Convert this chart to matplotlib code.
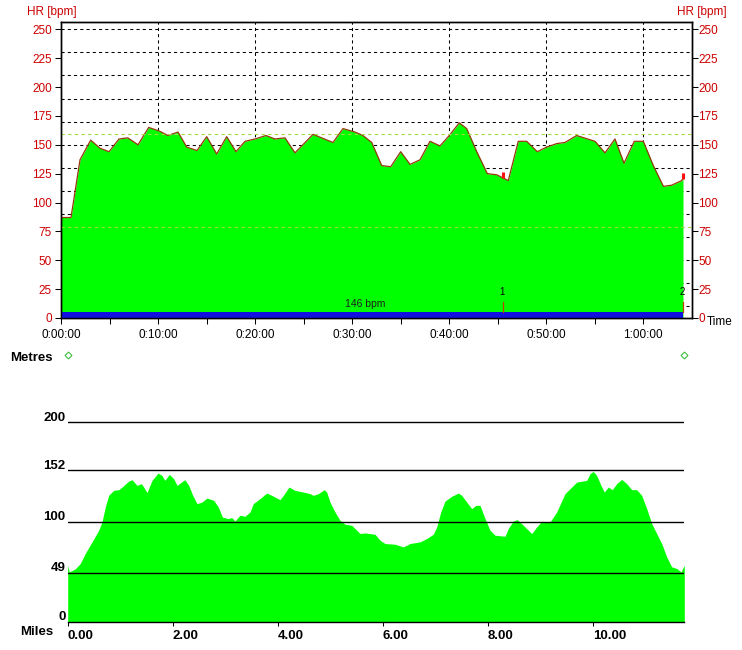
import numpy as np
import matplotlib
matplotlib.use("Agg")
import matplotlib.pyplot as plt

plt.rcParams['font.family'] = ['Liberation Sans', 'DejaVu Sans']

# heart rate, minutes vs bpm
hr_time = [0.0, 1.03, 1.96, 3.06, 4.02, 4.95, 5.98, 6.88, 7.94, 9.04, 10.1, 11.03,
           12.06, 12.96, 14.02, 15.02, 16.05, 17.08, 18.04, 18.97, 20.0, 21.13,
           22.06, 23.09, 24.12, 25.98, 28.04, 29.07, 30.31, 31.13, 32.03, 33.06,
           33.99, 35.02, 35.98, 37.01, 38.04, 39.07, 40.03, 41.06, 41.82, 42.86,
           43.95, 44.92, 46.11, 47.14, 48.01, 49.1, 50.07, 51.1, 51.96, 53.16,
           55.05, 56.08, 57.11, 58.04, 59.1, 60.03, 61.06, 62.1, 62.96, 63.99, 64.12]
hr_bpm = [87, 87, 137, 154, 147, 144, 155, 156, 150, 165, 162, 158,
          161, 148, 145, 157, 142, 157, 144, 153, 155, 158,
          155, 156, 143, 159, 152, 164, 161, 158, 152, 132,
          131, 144, 133, 137, 153, 149, 158, 169, 164, 144,
          125, 124, 119, 153, 153, 144, 148, 151, 152, 158,
          153, 143, 155, 134, 153, 153, 132, 114, 115, 119, 121]
avg_label = "146 bpm"
lap_times = [45.6, 64.1]
lap_names = ["1", "2"]
zone_limits = [159, 79]

# elevation, miles vs metres
dist = [0.0, 0.03, 0.145, 0.24, 0.335, 0.463, 0.59, 0.653, 0.716, 0.78, 0.876, 0.971,
        1.034, 1.162, 1.225, 1.32, 1.402, 1.448, 1.51, 1.606, 1.72, 1.796, 1.848,
        1.935, 2.019, 2.082, 2.229, 2.305, 2.381, 2.463, 2.558, 2.653, 2.781, 2.869,
        2.945, 3.059, 3.124, 3.187, 3.282, 3.377, 3.472, 3.535, 3.663, 3.79, 3.886,
        4.044, 4.107, 4.215, 4.33, 4.488, 4.615, 4.678, 4.773, 4.888, 4.933, 4.996,
        5.091, 5.187, 5.282, 5.41, 5.505, 5.568, 5.663, 5.853, 5.949, 6.044, 6.234,
        6.392, 6.52, 6.71, 6.838, 6.964, 7.029, 7.105, 7.187, 7.314, 7.44, 7.505,
        7.6, 7.695, 7.777, 7.853, 7.949, 8.044, 8.139, 8.33, 8.392, 8.488, 8.564,
        8.678, 8.838, 8.933, 9.029, 9.187, 9.314, 9.472, 9.6, 9.695, 9.886, 9.949,
        10.011, 10.076, 10.158, 10.221, 10.297, 10.373, 10.457, 10.552, 10.648,
        10.743, 10.838, 10.933, 11.029, 11.124, 11.219, 11.314, 11.41, 11.505,
        11.6, 11.682, 11.745]
elev = [56.7, 50, 53, 58.4, 68.5, 80, 91.7, 100, 115, 126.7, 131.7, 132.4,
        135, 141, 142.4, 136.7, 138.4, 135, 129.4, 141.7, 149, 146.7, 141.7,
        147.7, 143.4, 136.7, 142.4, 136.7, 126.7, 118.4, 120, 124, 121.7, 115,
        105, 103.4, 104.4, 101, 106.7, 105.7, 110, 118.4, 123.4, 129, 126.7,
        122.4, 126.7, 135, 131.7, 130, 128.4, 126.7, 128.4, 132.4, 130, 120,
        110, 101.7, 97.7, 96.7, 91.7, 88.4, 89, 87.7, 81.7, 78.4, 77.7,
        75, 78.4, 80, 83.4, 87.7, 95, 110, 121, 125.7, 129, 126.7,
        120, 113.4, 116.7, 116.7, 103.4, 91.7, 86.7, 85.7, 93.4, 101, 102.4,
        96.7, 88.4, 95, 100.7, 100, 110, 128.4, 135, 140, 141.7, 148.4,
        150.7, 146.7, 136.7, 130, 135, 132.4, 138.4, 142.7, 138.4,
        132.4, 132.4, 126.7, 113.4, 98.4, 88.4, 78.4, 65, 55,
        53.4, 50, 56.7]
elev_lines = [0, 49, 100, 152, 200]

W, H = 742, 650
fig = plt.figure(figsize=(W / 100, H / 100), dpi=100)
red = '#cc0000'
dash = (0, (3, 3))

# ---- heart rate chart
ax1 = fig.add_axes([61 / W, 1 - 318 / H, 631 / W, 296 / H])
ax1.set_xlim(0, 65.05)
ax1.set_ylim(0, 256.3)
for v in range(10, 251, 20):
    ax1.axhline(v, color='k', ls=dash, lw=0.75, zorder=1)
for t in range(10, 61, 10):
    ax1.axvline(t, color='k', ls=dash, lw=0.75, zorder=1)
ax1.fill_between(hr_time, hr_bpm, color='#00ff00', lw=0, zorder=2)
ax1.plot(hr_time, hr_bpm, color='#94380c', lw=0.9, zorder=3)
for z in zone_limits:
    ax1.axhline(z, color='#9cdc3c', ls=dash, lw=0.8, zorder=4)
ax1.fill_between([0, hr_time[-1]], 0, 5, color='#1010e0', lw=0, zorder=4)
ax1.text(31.4, 12, avg_label, ha='center', va='center', fontsize=7.5,
         color='#202020', zorder=5)
for lt, name in zip(lap_times, lap_names):
    y = np.interp(lt, hr_time, hr_bpm)
    ax1.plot([lt, lt], [y, y + 5], color='#ff1010', lw=2.2,
             solid_capstyle='butt', zorder=5)
    ax1.plot([lt, lt], [5, 14], color='#c04000', lw=0.9, zorder=5)
    ax1.text(lt - 0.1, 22.5, name, ha='center', va='center', fontsize=7, zorder=5)

ax1.set_xticks(range(0, 61, 10))
ax1.set_xticks(range(0, 65, 5), minor=True)
ax1.set_xticklabels(['%d:%02d:00' % (t // 60, t % 60) for t in range(0, 61, 10)])
ax1.tick_params(axis='x', which='both', direction='out', length=4, width=0.75,
                labelsize=8.5, pad=4)
yt = list(range(0, 251, 25))
ax1.set_yticks(yt)
ax1.tick_params(axis='y', direction='out', length=4, width=0.75, labelsize=8.5,
                labelcolor=red, pad=2.5)
ax1r = ax1.twinx()
ax1r.set_ylim(ax1.get_ylim())
ax1r.set_yticks(yt)
ax1r.tick_params(axis='y', direction='out', length=4, width=0.75, labelsize=8.5,
                 labelcolor=red, pad=0.5)
for a in (ax1, ax1r):
    for s in a.spines.values():
        s.set_linewidth(1)

fig.text(27 / W, 1 - 12.5 / H, 'HR [bpm]', color=red, fontsize=8.5,
         ha='left', va='center')
fig.text(727 / W, 1 - 12.5 / H, 'HR [bpm]', color=red, fontsize=8.5,
         ha='right', va='center')
fig.text(707 / W, 1 - 322 / H, 'Time', fontsize=8.5, ha='left', va='center')

# ---- elevation chart
ax2 = fig.add_axes([67.7 / W, 1 - 621.7 / H, 616.6 / W, 281.7 / H])
ax2.set_xlim(0, dist[-1])
ax2.set_ylim(0, 282.5)
ax2.fill_between(dist, elev, color='#00ff00', lw=0, zorder=2)
for v in elev_lines[1:]:
    ax2.axhline(v, color='k', lw=1, zorder=3)
for s in ('left', 'right', 'top'):
    ax2.spines[s].set_visible(False)
ax2.spines['bottom'].set_linewidth(1)
ax2.set_yticks([])
for v in elev_lines:
    ax2.text(-0.04, v + 1.5, str(v), ha='right', va='baseline', fontsize=9.5,
             fontweight='bold', transform=ax2.transData, clip_on=False)
ax2.set_xticks(range(0, 11, 2))
ax2.set_xticklabels(['%.2f' % m for m in range(0, 11, 2)], ha='left',
                    fontweight='bold', fontsize=9.5)
ax2.tick_params(axis='x', direction='out', length=3, width=0.75, pad=3)
ax2.plot([0, dist[-1]], [267.5, 267.5], ls='none', marker='D', ms=3.5,
         mfc='none', mec='#40c040', mew=0.8, clip_on=False)

fig.text(10 / W, 1 - 358 / H, 'Metres', fontsize=9.5, fontweight='bold',
         ha='left', va='center')
fig.text(20 / W, 1 - 632 / H, 'Miles', fontsize=9.5, fontweight='bold',
         ha='left', va='center')

fig.savefig('out.png', dpi=100)
